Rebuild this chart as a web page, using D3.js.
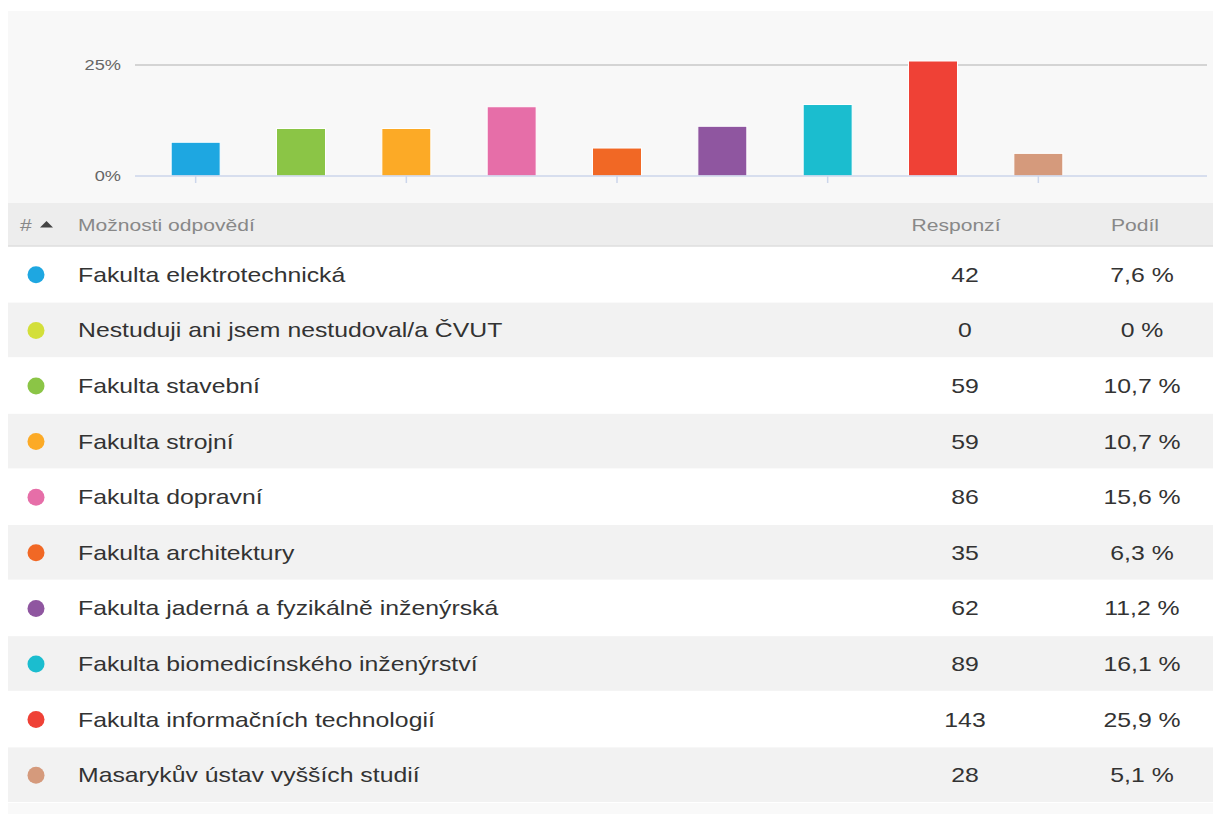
<!DOCTYPE html>
<html>
<head>
<meta charset="utf-8">
<script src="https://d3js.org/d3.v7.min.js"></script>
<style>
  body { margin: 0; background: #fff; }
  text { font-family: "Liberation Sans", Arial, sans-serif; }
</style>
</head>
<body>
<svg width="1213" height="814"></svg>
<script>
// answer options, in table order
var categories = [
  "Fakulta elektrotechnická",
  "Nestuduji ani jsem nestudoval/a ČVUT",
  "Fakulta stavební",
  "Fakulta strojní",
  "Fakulta dopravní",
  "Fakulta architektury",
  "Fakulta jaderná a fyzikálně inženýrská",
  "Fakulta biomedicínského inženýrství",
  "Fakulta informačních technologií",
  "Masarykův ústav vyšších studií"
];
var responses = [42, 0, 59, 59, 86, 35, 62, 89, 143, 28];
var shares = [7.6, 0, 10.7, 10.7, 15.6, 6.3, 11.2, 16.1, 25.9, 5.1];
var colors = ["#1ea7e1", "#d3df3a", "#8bc546", "#fcaa26", "#e66ea8", "#f16825", "#8f56a0", "#1bbdcf", "#ef4136", "#d59a7c"];
var yTicks = [0, 25];
var headers = ["#", "Možnosti odpovědí", "Responzí", "Podíl"];

var svg = d3.select("svg");
var sx = 1.24; // the screenshot's text is a bit wider than plain Arial

function place(x, y) { return "translate(" + x + "," + y + ") scale(" + sx + ",1)"; }

// chart panel
svg.append("rect").attr("x", 8).attr("y", 11).attr("width", 1205).attr("height", 192).attr("fill", "#f8f8f8");

// only answers with a share get a bar
var bars = categories.map(function(c, i) { return {name: c, share: shares[i], color: colors[i]}; })
                     .filter(function(d) { return d.share > 0; });

var xs = d3.scaleBand().domain(bars.map(function(d) { return d.name; }))
           .range([143, 1091]).paddingInner(0.535).paddingOuter(0.2675);
var ys = d3.scaleLinear().domain([0, 25]).range([176, 65]);

// grid + y labels
svg.append("g").selectAll("line").data(yTicks.filter(function(t) { return t > 0; })).enter()
   .append("line")
   .attr("x1", 135).attr("x2", 1207)
   .attr("y1", function(d) { return ys(d); }).attr("y2", function(d) { return ys(d); })
   .attr("stroke", "#c8c8c8").attr("stroke-width", 1.5);

svg.append("g").selectAll("text").data(yTicks).enter()
   .append("text")
   .attr("transform", function(d) { return "translate(121," + (ys(d) + 5) + ") scale(1.3,1)"; })
   .attr("text-anchor", "end")
   .style("font-size", "14px").style("fill", "#666")
   .text(function(d) { return d + "%"; });

// bars
svg.append("g").selectAll("rect").data(bars).enter()
   .append("rect")
   .attr("x", function(d) { return xs(d.name); })
   .attr("width", xs.bandwidth())
   .attr("y", function(d) { return ys(d.share); })
   .attr("height", function(d) { return ys(0) - ys(d.share); })
   .attr("fill", function(d) { return d.color; })
   .attr("stroke", "#fff").attr("stroke-width", 1);

// baseline and ticks (every second bar)
svg.append("line").attr("x1", 135).attr("x2", 1207).attr("y1", ys(0)).attr("y2", ys(0))
   .attr("stroke", "#ccd6eb").attr("stroke-width", 1.5);
svg.append("g").selectAll("line").data(bars.filter(function(d, i) { return i % 2 === 0; })).enter()
   .append("line")
   .attr("x1", function(d) { return xs(d.name) + xs.bandwidth() / 2; })
   .attr("x2", function(d) { return xs(d.name) + xs.bandwidth() / 2; })
   .attr("y1", ys(0)).attr("y2", ys(0) + 7)
   .attr("stroke", "#ccd6eb").attr("stroke-width", 1.5);

// table header
var headTop = 203, headH = 43, rowH = 55.6;
svg.append("rect").attr("x", 8).attr("y", headTop).attr("width", 1205).attr("height", headH).attr("fill", "#ededed");
svg.append("line").attr("x1", 8).attr("x2", 1213).attr("y1", headTop + headH).attr("y2", headTop + headH)
   .attr("stroke", "#dedede").attr("stroke-width", 1.5);

var headX = [20, 78, 956, 1135];
var headAnchor = ["start", "start", "middle", "middle"];
svg.append("g").selectAll("text").data(headers).enter()
   .append("text")
   .attr("transform", function(d, i) { return place(headX[i], headTop + 28); })
   .attr("text-anchor", function(d, i) { return headAnchor[i]; })
   .style("font-size", "17px").style("fill", "#888")
   .text(function(d) { return d; });
// sort arrow
svg.append("path").attr("d", "M40,227.5 L46.5,221 L53,227.5 Z").attr("fill", "#444");

// rows
var rowTop = headTop + headH + 1;
var rows = svg.append("g").selectAll("g").data(categories).enter()
   .append("g")
   .attr("transform", function(d, i) { return "translate(0," + (rowTop + i * rowH) + ")"; });

rows.append("rect").attr("x", 8).attr("width", 1205).attr("height", rowH - 1)
    .attr("fill", function(d, i) { return i % 2 ? "#f2f2f2" : "#fff"; });

rows.append("circle").attr("cx", 36).attr("cy", rowH / 2).attr("r", 8.5)
    .attr("fill", function(d, i) { return colors[i]; });

rows.append("text").attr("transform", place(78, rowH / 2 + 7))
    .style("font-size", "20px").style("fill", "#333")
    .text(function(d) { return d; });

rows.append("text").attr("transform", place(965, rowH / 2 + 7)).attr("text-anchor", "middle")
    .style("font-size", "20px").style("fill", "#333")
    .text(function(d, i) { return responses[i]; });

rows.append("text").attr("transform", place(1142, rowH / 2 + 7)).attr("text-anchor", "middle")
    .style("font-size", "20px").style("fill", "#333")
    .text(function(d, i) { return String(shares[i]).replace(".", ",") + " %"; });

// footer strip
svg.append("rect").attr("x", 8).attr("y", rowTop + categories.length * rowH).attr("width", 1205).attr("height", 14)
   .attr("fill", "#f9f9f9");
</script>
</body>
</html>
